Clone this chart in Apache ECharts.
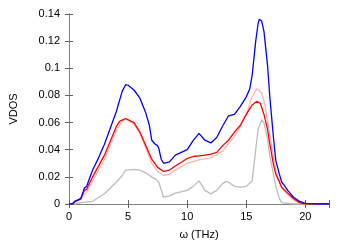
<!DOCTYPE html>
<html><head><meta charset="utf-8">
<script src="https://cdn.jsdelivr.net/npm/echarts@6/dist/echarts.min.js"></script>
<style>html,body{margin:0;padding:0;background:#fff}#c{width:350px;height:245px}</style>
</head><body><div id="c"></div>
<script>
const blueX=[0,0.3,0.5,0.8,1,1.2,1.3,1.5,1.7,2,2.5,3,3.5,4,4.5,4.8,5,5.5,6,6.5,6.8,7,7.3,7.5,7.6,7.8,8,8.5,9,9.5,10,10.5,11,11.1,11.5,12,12.5,13,13.5,14,14.5,15,15.3,15.5,15.8,16,16.1,16.3,16.5,16.8,17,17.3,17.5,17.8,18,18.2,18.5,19,19.5,20,21,22];
const blueY=[0,0,0.002,0.003,0.004,0.009,0.012,0.013,0.018,0.025,0.034,0.044,0.056,0.068,0.083,0.088,0.0875,0.084,0.078,0.067,0.058,0.047,0.044,0.043,0.041,0.033,0.030,0.031,0.036,0.038,0.040,0.0467,0.052,0.0525,0.047,0.045,0.049,0.0575,0.065,0.066,0.072,0.079,0.085,0.095,0.120,0.133,0.136,0.135,0.127,0.102,0.078,0.049,0.032,0.022,0.016,0.014,0.010,0.005,0.002,0.0005,0,0];
const redX=[0,0.3,0.5,1,1.3,1.5,2,3,4,4.3,4.8,5.5,6,6.5,7,7.5,8,8.5,9,10,10.5,11,11.5,12,12.5,13,13.5,14,14.5,15,15.5,15.9,16.2,16.5,16.8,17,17.3,17.5,18,18.5,19,19.5,20,22];
const redY=[0,0,0.002,0.004,0.010,0.011,0.020,0.036,0.057,0.061,0.063,0.060,0.053,0.043,0.033,0.027,0.024,0.025,0.028,0.0335,0.035,0.0355,0.036,0.0367,0.038,0.043,0.047,0.053,0.058,0.066,0.073,0.0757,0.074,0.066,0.055,0.044,0.029,0.022,0.0124,0.008,0.004,0.001,0,0];
const pinkX=[0,0.3,0.5,1,1.5,2,3,4,4.5,4.8,5.5,6,6.5,7,7.5,8,8.5,9,10,11,12,13,14,14.5,15,15.5,15.9,16.3,16.6,17,17.5,18,18.5,19,19.5,20,22];
const pinkY=[0,0,0.002,0.003,0.009,0.017,0.033,0.054,0.061,0.0625,0.059,0.052,0.041,0.030,0.024,0.021,0.022,0.025,0.030,0.0325,0.034,0.039,0.050,0.057,0.066,0.079,0.085,0.082,0.072,0.050,0.024,0.012,0.007,0.003,0.001,0,0];
const grayX=[0,0.5,1,2,3,4,4.5,4.8,5.5,6,6.5,7,7.4,7.5,7.6,8,8.5,9,10,10.5,11,11.1,11.5,12,12.5,13,13.3,13.5,14,14.5,15,15.5,15.8,16,16.3,16.5,16.8,17,17.3,17.5,17.8,18,19,22];
const grayY=[0,0,0.001,0.002,0.0075,0.016,0.021,0.025,0.0255,0.025,0.023,0.020,0.018,0.019,0.016,0.005,0.006,0.008,0.010,0.013,0.017,0.018,0.010,0.0075,0.010,0.015,0.0167,0.016,0.013,0.0125,0.013,0.017,0.040,0.055,0.062,0.060,0.048,0.035,0.022,0.013,0.004,0.001,0,0];
const xTicks=[0,5,10,15,20];

function pairs(xs,ys){return xs.map((x,i)=>[x,ys[i]]);}
const font='"Liberation Sans", Arial, sans-serif';
const frame={lineStyle:{color:'#808080',width:1}};
const chart=echarts.init(document.getElementById('c'));
function mk(name,xs,ys,color){return {name,type:'line',data:pairs(xs,ys),showSymbol:false,symbol:'none',lineStyle:{color,width:1.3},itemStyle:{color},animation:false};}
chart.setOption({
  animation:false,
  grid:{left:64,top:14,width:265,height:193},
  xAxis:[{type:'value',min:0,max:22,interval:5,position:'bottom',
    name:'ω (THz)',nameLocation:'middle',nameGap:25,nameTextStyle:{fontFamily:font,fontSize:11,color:'#000'},
    axisLine:frame,axisTick:{inside:true,length:4,lineStyle:{color:'#606060'}},
    axisLabel:{fontFamily:font,fontSize:11,color:'#000',margin:7,formatter:v=>xTicks.includes(v)?String(v):''},splitLine:{show:false}},
   {type:'value',min:0,max:22,interval:5,position:'top',axisLine:frame,axisTick:{inside:true,length:4,lineStyle:{color:'#606060'}},axisLabel:{show:false},splitLine:{show:false}}],
  yAxis:[{type:'value',min:0,max:0.14,interval:0.02,
    name:'VDOS',nameLocation:'middle',nameGap:50,nameRotate:90,nameTextStyle:{fontFamily:font,fontSize:11,color:'#000'},
    axisLine:{show:true,lineStyle:{color:'#808080',width:1}},axisTick:{show:true,inside:true,length:4,lineStyle:{color:'#606060'}},
    axisLabel:{fontFamily:font,fontSize:11,color:'#000',margin:9,formatter:v=>String(Math.round(v*100)/100)},splitLine:{show:false}},
   {type:'value',min:0,max:0.14,interval:0.02,position:'right',axisLine:{show:true,lineStyle:{color:'#808080',width:1}},axisTick:{show:true,inside:true,length:4,lineStyle:{color:'#606060'}},axisLabel:{show:false},splitLine:{show:false}}],
  series:[mk('gray',grayX,grayY,'#bdbdbd'),mk('pink',pinkX,pinkY,'#ffb4b4'),mk('red',redX,redY,'#ff0000'),mk('blue',blueX,blueY,'#0000ff')]
});
</script></body></html>
